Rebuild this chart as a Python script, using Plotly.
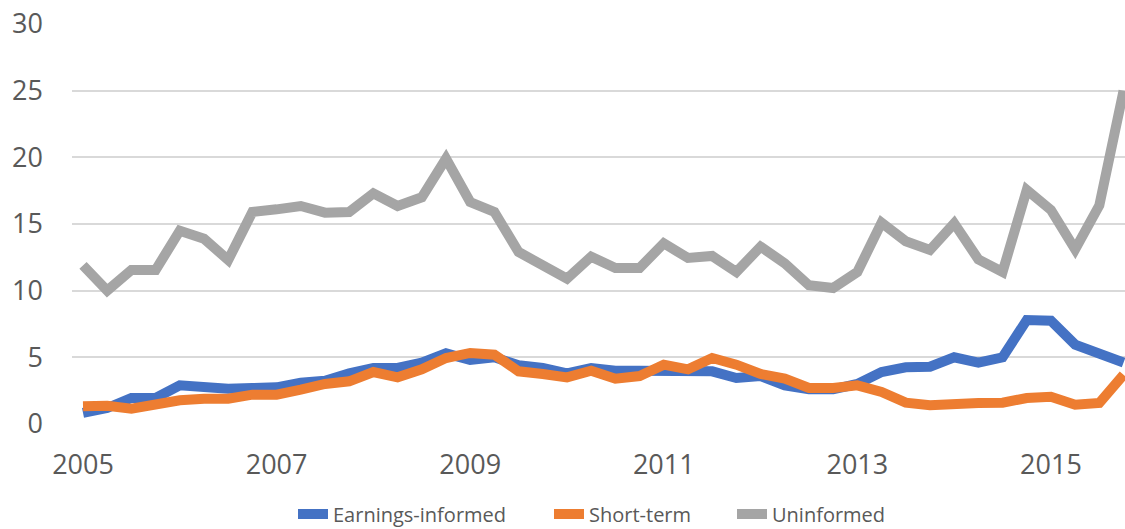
import plotly.graph_objects as go

quarters = list(range(44))
tick_pos = [0, 8, 16, 24, 32, 40]
tick_labels = ["2005", "2007", "2009", "2011", "2013", "2015"]

earnings_informed = [0.83, 1.2, 1.95, 1.95, 2.9, 2.7, 2.65, 2.7, 2.75, 3.1, 3.25, 3.8, 4.2, 4.2, 4.6,
                     5.3, 4.8, 5.0, 4.4, 4.2, 3.8, 4.2, 4.0, 4.0, 3.95, 3.9, 3.95, 3.45, 3.6, 2.9,
                     2.6, 2.6, 3.0, 3.9, 4.25, 4.3, 5.0, 4.6, 5.0, 7.8, 7.75, 5.95, 5.3, 4.6]
short_term = [1.33, 1.37, 1.15, 1.5, 1.78, 1.9, 1.9, 2.2, 2.2, 2.57, 3.0, 3.2, 3.9, 3.5, 4.1,
              4.95, 5.33, 5.2, 3.95, 3.75, 3.5, 4.0, 3.4, 3.6, 4.45, 4.1, 4.95, 4.45, 3.75, 3.4,
              2.7, 2.7, 2.9, 2.4, 1.6, 1.4, 1.53, 1.58, 1.6, 1.95, 2.05, 1.45, 1.58, 3.7]
uninformed = [11.9, 10.0, 11.55, 11.55, 14.5, 13.9, 12.3, 15.9, 16.1, 16.35, 15.85, 15.9, 17.3, 16.35,
              17.0, 19.9, 16.65, 15.9, 12.9, 11.9, 10.9, 12.55, 11.7, 11.7, 13.55, 12.45, 12.6, 11.4,
              13.3, 12.05, 10.4, 10.2, 11.4, 15.1, 13.7, 13.05, 15.05, 12.35, 11.4, 17.55, 16.05,
              13.1, 16.4, 25.0]

series = [
    ("Earnings-informed", earnings_informed, "#4472C4", "legend"),
    ("Short-term", short_term, "#ED7D31", "legend2"),
    ("Uninformed", uninformed, "#A5A5A5", "legend3"),
]

fig = go.Figure()
for name, vals, color, lg in series:
    fig.add_trace(go.Scatter(x=quarters, y=vals, mode="lines", name=name, legend=lg,
                             line=dict(color=color, width=10), cliponaxis=False))

font_family = "Open Sans, Noto Sans, DejaVu Sans, sans-serif"
legend_font = dict(family=font_family, size=20, color="#595959")
plot_left, plot_w = 72, 1053
legend_px = [293, 549, 732]
legend_x = [(p - plot_left) / plot_w for p in legend_px]

def leg(x):
    return dict(orientation="h", x=x, xanchor="left", y=-0.225, yanchor="middle",
                font=legend_font, bgcolor="rgba(0,0,0,0)", borderwidth=0)

fig.update_layout(
    width=1125, height=529,
    margin=dict(l=72, r=0, t=24, b=105, autoexpand=False),
    paper_bgcolor="white", plot_bgcolor="white",
    showlegend=True,
    legend=leg(legend_x[0]), legend2=leg(legend_x[1]), legend3=leg(legend_x[2]),
    xaxis=dict(range=[-0.455, 43.06], tickmode="array", tickvals=tick_pos, ticktext=tick_labels,
               showgrid=False, zeroline=False, showline=False, ticks="", automargin=False,
               ticklabelstandoff=22,
               tickfont=dict(family=font_family, size=27, color="#595959")),
    yaxis=dict(range=[0, 30], tickmode="array", tickvals=[0, 5, 10, 15, 20, 25, 30],
               showgrid=True, gridcolor="#D9D9D9", gridwidth=1.5, zeroline=False,
               showline=False, ticks="", ticklabelstandoff=28, automargin=False,
               tickfont=dict(family=font_family, size=27, color="#595959")),
)

fig.write_html("out.html", config={"displayModeBar": False},
               post_script="document.body.style.margin='0';document.body.style.overflow='hidden';")
